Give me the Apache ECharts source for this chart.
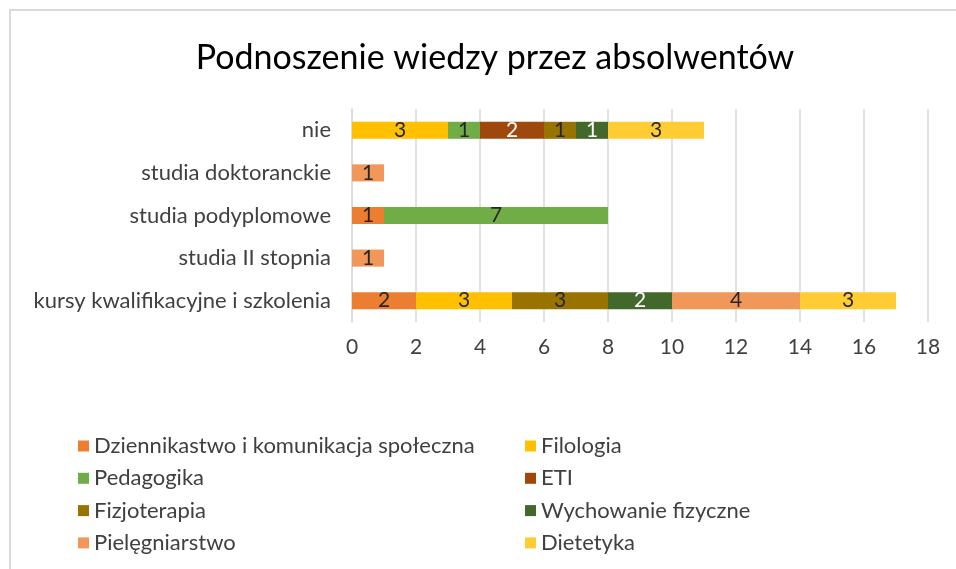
<!DOCTYPE html>
<html>
<head>
<meta charset="utf-8">
<script src="https://cdn.jsdelivr.net/npm/echarts@6/dist/echarts.min.js"></script>
<style>
  html, body { margin: 0; padding: 0; background: #fff; overflow: hidden; }
  .frame {
    position: absolute; left: 9px; top: 9px; width: 980px; height: 600px;
    border-top: 2px solid #d9d9d9; border-left: 2px solid #d9d9d9;
  }
  #chart { position: absolute; left: 0; top: 0; width: 956px; height: 569px; }
</style>
</head>
<body>
<div class="frame"></div>
<div id="chart"></div>
<script>
// categories, bottom to top
const categories = ['kursy kwalifikacyjne i szkolenia', 'studia II stopnia', 'studia podyplomowe', 'studia doktoranckie', 'nie']

const dziennikarstwo = [2, 0, 1, 0, 0]
const filologia = [3, 0, 0, 0, 3]
const pedagogika = [0, 0, 7, 0, 1]
const eti = [0, 0, 0, 0, 2]
const fizjoterapia = [3, 0, 0, 0, 1]
const wychowanie = [2, 0, 0, 0, 1]
const pielegniarstwo = [4, 1, 0, 1, 0]
const dietetyka = [3, 0, 0, 0, 3]

const seriesList = [
  {name: 'Dziennikastwo i komunikacja społeczna', data: dziennikarstwo, color: '#ED7D31', text: '#262626'},
  {name: 'Filologia', data: filologia, color: '#FFC000', text: '#262626'},
  {name: 'Pedagogika', data: pedagogika, color: '#70AD47', text: '#262626'},
  {name: 'ETI', data: eti, color: '#9E480E', text: '#ffffff'},
  {name: 'Fizjoterapia', data: fizjoterapia, color: '#997300', text: '#262626'},
  {name: 'Wychowanie fizyczne', data: wychowanie, color: '#43682B', text: '#ffffff'},
  {name: 'Pielęgniarstwo', data: pielegniarstwo, color: '#F1975A', text: '#262626'},
  {name: 'Dietetyka', data: dietetyka, color: '#FFCD33', text: '#262626'}
]

const font = 'Lato, "Open Sans", sans-serif'

let series = seriesList.map(function (s) {
  return {
    name: s.name,
    type: 'bar',
    stack: 'total',
    barCategoryGap: '60%',
    data: s.data.map(function (v) { return v === 0 ? null : v }),
    itemStyle: {color: s.color},
    label: {
      show: true,
      position: 'inside',
      color: s.text,
      fontSize: 21,
      fontFamily: font
    }
  }
})

let legendStyle = {
  orient: 'vertical',
  icon: 'rect',
  itemWidth: 11,
  itemHeight: 11,
  itemGap: 10.3,
  textStyle: {fontSize: 22, color: '#404040', fontFamily: font}
}

let option = {
  animation: false,
  title: {
    text: 'Podnoszenie wiedzy przez absolwentów',
    left: 490,
    textAlign: 'center',
    top: 36,
    textStyle: {fontSize: 34, fontWeight: 'normal', color: '#000', fontFamily: font}
  },
  legend: [
    Object.assign({left: 73, top: 430, data: [seriesList[0].name, seriesList[2].name, seriesList[4].name, seriesList[6].name]}, legendStyle),
    Object.assign({left: 520, top: 430, data: [seriesList[1].name, seriesList[3].name, seriesList[5].name, seriesList[7].name]}, legendStyle)
  ],
  grid: {left: 352, right: 28, top: 109, bottom: 247, containLabel: false},
  xAxis: {
    type: 'value',
    min: 0,
    max: 18,
    interval: 2,
    axisLine: {show: false},
    axisTick: {show: false},
    splitLine: {lineStyle: {color: '#d9d9d9', width: 1.5}},
    axisLabel: {color: '#404040', fontSize: 21, margin: 15, fontFamily: font}
  },
  yAxis: {
    type: 'category',
    data: categories,
    axisLine: {lineStyle: {color: '#d9d9d9', width: 1.5}},
    axisTick: {show: false},
    axisLabel: {color: '#404040', fontSize: 22, margin: 21, fontFamily: font}
  },
  series: series
}

let myChart = echarts.init(document.getElementById('chart'), null, {renderer: 'canvas'})
myChart.setOption(option)
</script>
</body>
</html>
